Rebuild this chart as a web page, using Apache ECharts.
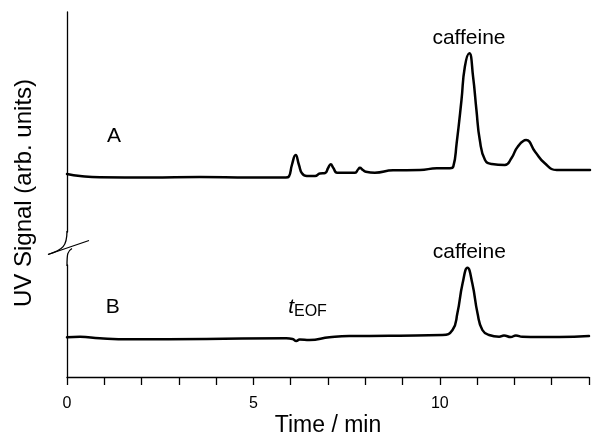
<!DOCTYPE html>
<html>
<head>
<meta charset="utf-8">
<script src="https://cdn.jsdelivr.net/npm/echarts@6/dist/echarts.min.js"></script>
<style>
  html, body { margin: 0; padding: 0; background: #fff; }
  #main { width: 592px; height: 443px; }
</style>
</head>
<body>
<div id="main"></div>
<script>
// trace A (upper) : time (min), signal (arb.)
const timeA = [0, 0.35, 0.88, 2.22, 3.56, 4.9, 5.86, 5.94, 6.02, 6.12, 6.21, 6.29, 6.42, 6.64,
  6.77, 6.91, 6.99, 7.06, 7.13, 7.23, 7.71, 7.79, 7.84, 7.92, 8.0, 8.24, 8.73, 9.45, 9.9,
  10.25, 10.34, 10.43, 10.56, 10.65, 10.77, 10.87, 10.96, 11.05, 11.19, 11.37, 11.72,
  11.9, 12.06, 12.29, 12.53, 12.79, 13.11, 13.46, 14.0];
const signalA = [58, 56, 54.7, 54.5, 55, 54.5, 54.5, 55.5, 67, 77, 67, 58.7, 56, 56,
  58.5, 59, 64, 67.7, 64, 59.3, 59.3, 62.5, 64.3, 62, 60.3, 59.3, 61.7, 62, 63.7,
  63.7, 65.3, 88.7, 132, 165.3, 178.7, 155.3, 122, 92, 72, 68, 67,
  74, 85, 92, 80.3, 68.7, 62, 62, 62];

// trace B (lower)
const timeB = [0, 0.35, 0.88, 1.69, 3.74, 5.88, 6.05, 6.15, 6.24, 6.5, 7.04, 7.57, 8.11,
  8.91, 10.07, 10.34, 10.47, 10.61, 10.74, 10.87, 11.01, 11.14, 11.32, 11.59, 11.72,
  11.9, 12.04, 12.21, 12.66, 13.2, 14.0];
const signalB = [39.7, 40.3, 38.7, 37.7, 38, 38.7, 38, 36, 37.5, 37, 39.7, 41, 41,
  41.3, 42, 47, 63.7, 93.7, 109.3, 93.7, 63.7, 47, 42, 40.3, 41.5,
  40, 41.5, 40.3, 40, 40, 41];

// annotations: text, time, signal, panel
const notes = [
  ['A', 1.26, 96, 0],
  ['caffeine', 10.76, 194, 0],
  ['B', 1.23, 70, 1],
  ['{t|t}{s|EOF}', 6.45, 70, 1],
  ['caffeine', 10.79, 125, 1]
];

const FONT = 'Liberation Sans, Arial, sans-serif';

function pairs(xs, ys) {
  return xs.map((x, i) => [x, ys[i]]);
}

const chart = echarts.init(document.getElementById('main'));

const axisLine = { show: true, lineStyle: { color: '#000', width: 1.3 } };

chart.setOption({
  animation: false,
  backgroundColor: '#fff',
  grid: [
    { left: 67, right: 2, top: 12, bottom: 211 },
    { left: 67, right: 2, top: 265, bottom: 66 }
  ],
  xAxis: [
    { type: 'value', gridIndex: 0, min: 0, max: 14, show: false },
    {
      type: 'value', gridIndex: 1, min: 0, max: 14, interval: 1,
      axisLine: axisLine,
      axisTick: { show: true, inside: false, length: 8, lineStyle: { color: '#000', width: 1.3 } },
      splitLine: { show: false },
      axisLabel: {
        color: '#000', fontFamily: FONT, fontSize: 16, margin: 19,
        formatter: v => (v % 5 === 0 ? String(v) : '')
      },
      name: 'Time / min', nameLocation: 'middle', nameGap: 37,
      nameTextStyle: { color: '#000', fontFamily: FONT, fontSize: 23 }
    }
  ],
  yAxis: [
    { type: 'value', gridIndex: 0, min: 0, max: 220, axisLine: axisLine,
      axisTick: { show: false }, axisLabel: { show: false }, splitLine: { show: false } },
    { type: 'value', gridIndex: 1, min: 0, max: 112, axisLine: axisLine,
      axisTick: { show: false }, axisLabel: { show: false }, splitLine: { show: false } }
  ],
  series: [
    {
      type: 'line', xAxisIndex: 0, yAxisIndex: 0, data: pairs(timeA, signalA),
      showSymbol: false, smooth: 0.5,
      lineStyle: { color: '#000', width: 2.5, join: 'round', cap: 'round' }
    },
    {
      type: 'line', xAxisIndex: 1, yAxisIndex: 1, data: pairs(timeB, signalB),
      showSymbol: false, smooth: 0.5,
      lineStyle: { color: '#000', width: 2.5, join: 'round', cap: 'round' }
    }
  ]
});

// text labels + axis break mark
const graphics = notes.map(n => {
  const p = chart.convertToPixel({ gridIndex: n[3] }, [n[1], n[2]]);
  return {
    type: 'text', x: p[0], y: p[1],
    style: {
      text: n[0], fill: '#000', font: '21px ' + FONT,
      align: 'center', verticalAlign: 'middle',
      rich: {
        t: { fontSize: 21, fontStyle: 'italic', fontFamily: FONT, fill: '#000' },
        s: { fontSize: 16, fontFamily: FONT, fill: '#000', padding: [9, 0, 0, 0] }
      }
    }
  };
});

graphics.push({
  type: 'text', x: 24, y: 193, rotation: Math.PI / 2,
  style: { text: 'UV Signal (arb. units)', fill: '#000', font: '24px ' + FONT,
    align: 'center', verticalAlign: 'middle' }
});

// break: curve out of the upper axis, slash, curve into the lower axis
const brk = { stroke: '#000', lineWidth: 1.3, fill: null };
graphics.push(
  { type: 'bezierCurve', shape: { x1: 67, y1: 231, cpx1: 67, cpy1: 246, cpx2: 63, cpy2: 250, x2: 48, y2: 254.5 }, style: brk },
  { type: 'line', shape: { x1: 48, y1: 254.5, x2: 89, y2: 240.5 }, style: brk },
  { type: 'bezierCurve', shape: { x1: 72, y1: 248.5, cpx1: 67.5, cpy1: 251, cpx2: 67, cpy2: 254, x2: 67, y2: 266 }, style: brk }
);

chart.setOption({ graphic: graphics });
</script>
</body>
</html>
